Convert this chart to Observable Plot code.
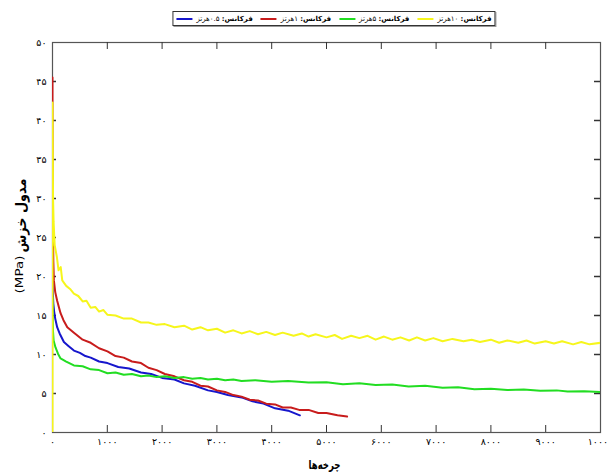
<!DOCTYPE html>
<html><head><meta charset="utf-8">
<script src="https://cdn.jsdelivr.net/npm/d3@7"></script>
<script src="https://cdn.jsdelivr.net/npm/@observablehq/plot@0.6"></script>
<style>
body{margin:0;background:#fff;font-family:"DejaVu Sans",sans-serif;}
#legend{height:34px;position:relative;width:607px;}
#legend .box{position:absolute;left:334px;top:11px;transform:translateX(-50%);height:13px;border:1px solid #333;box-shadow:1px 1px 0 #999;display:flex;align-items:center;padding:0 3px;gap:8px;background:#fff;white-space:nowrap;}
#legend .item{display:flex;align-items:center;gap:4px;}
#legend .sw{width:16px;height:2px;}
#legend .lab{font-size:7px;direction:rtl;}
#legend .lab b{font-weight:bold;}
</style></head>
<body>
<div id="legend"><div class="box"></div></div>
<div id="chart"></div>
<script>
const seriesNames = ["فرکانس: ۰.۵هرتز", "فرکانس: ۱هرتز", "فرکانس: ۵هرتز", "فرکانس: ۱۰هرتز"];
const seriesColors = ["#1616cc", "#c81c1c", "#22dd22", "#f6f61c"];
const xTicks = [0,1000,2000,3000,4000,5000,6000,7000,8000,9000,10000];
const xTickLabels = ["۰","۱۰۰۰","۲۰۰۰","۳۰۰۰","۴۰۰۰","۵۰۰۰","۶۰۰۰","۷۰۰۰","۸۰۰۰","۹۰۰۰","۱۰۰۰۰"];
const yTicks = [0,5,10,15,20,25,30,35,40,45,50];
const yTickLabels = ["۰","۵","۱۰","۱۵","۲۰","۲۵","۳۰","۳۵","۴۰","۴۵","۵۰"];
const xLabel = "چرخه‌ها";
const yLabelMain = "مدول خزش";
const yLabelUnit = "(MPa)";

const blue = [[0,20.4],[5,18],[15,16.5],[30,15.5],[50,14.6],[85,13.5],[130,12.7],[208,11.6],[290,11.1],[391,10.5],[500,10.2],[600,9.8],[697,9.6],[850,9.1],[1003,8.9],[1200,8.4],[1400,8.2],[1615,7.7],[1800,7.5],[2000,7.0],[2226,6.8],[2400,6.3],[2600,6.0],[2838,5.4],[3000,5.2],[3200,4.8],[3450,4.5],[3650,4.0],[3850,3.7],[4061,3.1],[4300,2.8],[4514,2.2]];
const red = [[0,45.5],[0,40],[3,33.8],[8,27],[15,22],[25,19.5],[50,18],[85,16.9],[147,15.3],[200,14.4],[270,13.5],[391,12.8],[550,11.9],[697,11.5],[850,10.8],[1003,10.4],[1150,9.8],[1300,9.6],[1450,9.1],[1615,8.9],[1750,8.3],[1900,8.0],[2050,7.5],[2226,7.2],[2400,6.7],[2550,6.5],[2700,6.0],[2838,5.9],[3000,5.4],[3150,5.2],[3300,4.8],[3450,4.6],[3600,4.2],[3750,4.1],[3900,3.7],[4061,3.6],[4200,3.2],[4350,3.2],[4500,2.9],[4673,2.9],[4850,2.5],[5000,2.5],[5200,2.2],[5376,2.05]];
const green = [[0,17.3],[3,15],[8,13.1],[20,11.8],[55,10.9],[100,10.1],[147,9.5],[250,9.1],[391,8.6],[550,8.5],[697,8.1],[850,8.0],[1003,7.6],[1150,7.7],[1300,7.4],[1450,7.5],[1615,7.2],[1750,7.3],[1900,7.1],[2050,7.2],[2226,7.0],[2400,7.1],[2550,6.9],[2700,7.0],[2838,6.8],[3000,6.9],[3150,6.7],[3300,6.8],[3450,6.6],[3700,6.7],[4000,6.5],[4300,6.6],[4673,6.4],[5000,6.45],[5300,6.2],[5600,6.3],[5896,6.1],[6200,6.15],[6500,5.9],[6800,6.0],[7119,5.75],[7400,5.8],[7700,5.55],[8000,5.6],[8300,5.45],[8600,5.5],[8900,5.35],[9200,5.4],[9400,5.25],[9700,5.3],[10000,5.2]];
const yellow = [[0,0],[0,42.3],[5,36],[10,30],[20,27],[40,24],[80,22.5],[110,20.8],[150,21.2],[178,19.5],[250,18.8],[320,18.4],[390,17.8],[470,17.5],[550,16.8],[620,16.9],[697,16.0],[780,16.1],[850,15.5],[930,15.7],[1000,15.1],[1150,15.0],[1300,14.6],[1450,14.6],[1615,14.1],[1750,14.1],[1900,13.8],[2050,13.9],[2226,13.5],[2400,13.7],[2550,13.2],[2700,13.5],[2838,13.1],[3000,13.3],[3150,12.8],[3300,13.1],[3450,12.7],[3600,13.0],[3750,12.6],[3900,12.9],[4061,12.5],[4200,12.8],[4400,12.4],[4550,12.7],[4673,12.3],[4800,12.6],[5000,12.2],[5150,12.5],[5284,12.0],[5450,12.4],[5600,12.1],[5750,12.4],[5896,11.9],[6050,12.3],[6200,11.9],[6350,12.2],[6508,11.8],[6650,12.2],[6800,11.8],[6950,12.1],[7119,11.7],[7300,12.0],[7500,11.7],[7650,11.9],[7800,11.6],[8000,11.9],[8150,11.5],[8300,11.8],[8500,11.5],[8650,11.8],[8800,11.4],[9000,11.7],[9150,11.4],[9300,11.7],[9500,11.3],[9650,11.6],[9800,11.3],[10000,11.5]];
const seriesData = [blue, red, green, yellow];

// legend
const box = document.querySelector("#legend .box");
seriesNames.forEach((n, i) => {
  const it = document.createElement("div"); it.className = "item";
  const sw = document.createElement("div"); sw.className = "sw"; sw.style.background = seriesColors[i];
  const lb = document.createElement("span"); lb.className = "lab";
  const [a, b] = n.split(": ");
  lb.innerHTML = "<b>" + a + ":</b> " + b;
  it.appendChild(sw); it.appendChild(lb); box.appendChild(it);
});

const W = 607, H = 439, mL = 52, mR = 7, mT = 8, mB = 41;
const pw = W - mL - mR, ph = H - mT - mB;
const fx = d => xTickLabels[xTicks.indexOf(d)];
const fy = d => yTickLabels[yTicks.indexOf(d)];
const inner = xTicks.slice(1, -1), innerY = yTicks.slice(1, -1);

const chart = Plot.plot({
  width: W, height: H, marginLeft: mL, marginRight: mR, marginTop: mT, marginBottom: mB,
  x: {domain: [0, 10000]}, y: {domain: [0, 50]},
  style: {fontFamily: "DejaVu Sans, sans-serif", fontSize: "9.5px", color: "#000", background: "#fff"},
  marks: [
    Plot.frame({stroke: "#555", strokeWidth: 1.2}),
    Plot.tickX(inner, {x: d => d, stroke: "#333", insetTop: ph - 7}),
    Plot.tickX(inner, {x: d => d, stroke: "#333", insetBottom: ph - 7}),
    Plot.tickY(innerY, {y: d => d, stroke: "#333", strokeWidth: 1.5, insetRight: pw - 4}),
    Plot.tickY(innerY, {y: d => d, stroke: "#333", strokeWidth: 1.5, insetLeft: pw - 6}),
    ...seriesData.map((s, i) => Plot.line(s, {x: d => d[0], y: d => d[1], stroke: seriesColors[i], strokeWidth: 2, clip: true})),
    Plot.axisX(xTicks, {tickSize: 0, tickPadding: 6, tickFormat: fx, label: null}),
    Plot.axisY(yTicks, {tickSize: 0, tickPadding: 6, tickFormat: fy, label: null}),
    Plot.text([xLabel], {frameAnchor: "bottom", dx: -2, dy: 33, textAnchor: "middle", lineAnchor: "middle", fontSize: 12, fontWeight: "bold", fill: "#000"}),
    Plot.text([yLabelMain], {frameAnchor: "left", dx: -31, dy: -22, rotate: -90, textAnchor: "middle", lineAnchor: "middle", fontSize: 14, fontWeight: "bold", fill: "#000"}),
    Plot.text([yLabelUnit], {frameAnchor: "left", dx: -33, dy: 37, rotate: -90, textAnchor: "middle", lineAnchor: "middle", fontSize: 10, fill: "#000"})
  ]
});
// stretch axis titles to the reference's text lengths
const stretch = {[xLabel]: 32, [yLabelMain]: 74, [yLabelUnit]: 38};
chart.querySelectorAll("text").forEach(t => {
  const s = t.textContent;
  if (stretch[s]) { t.setAttribute("textLength", stretch[s]); t.setAttribute("lengthAdjust", "spacingAndGlyphs"); }
});
document.getElementById("chart").appendChild(chart);
</script>
</body></html>
